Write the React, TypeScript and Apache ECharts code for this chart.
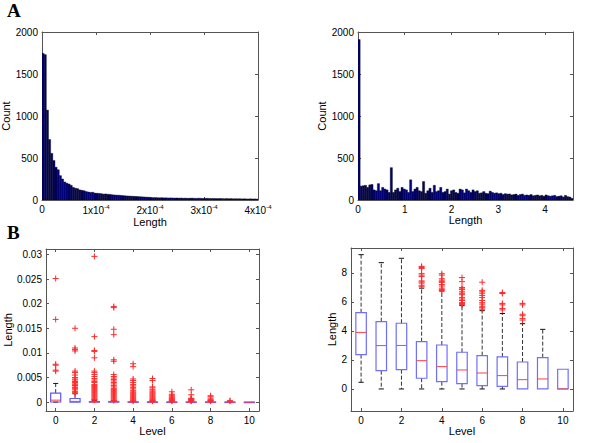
import React, { useEffect, useRef } from 'react';
import * as echarts from 'echarts';

// ---------- Data ----------
// Panel A (left): histogram of Length, 100 bins over [0, 4e-4]
const lengthBinWidth = 4e-6;
const lengthCounts = [
  1745, 1730, 1070, 720, 555, 470, 390, 360, 290, 250,
  215, 200, 190, 175, 150, 140, 135, 120, 115, 110,
  100, 95, 90, 92, 82, 80, 78, 75, 70, 72,
  68, 66, 62, 60, 58, 57, 55, 52, 50, 48,
  47, 45, 44, 42, 40, 39, 37, 36, 34, 32,
  30, 28, 29, 27, 26, 27, 25, 26, 24, 25,
  24, 23, 24, 22, 23, 21, 22, 20, 21, 22,
  20, 19, 21, 20, 18, 19, 20, 18, 17, 18,
  17, 16, 18, 16, 15, 17, 15, 16, 14, 15,
  14, 15, 13, 14, 13, 12, 14, 12, 13, 11,
];
// Panel A (right): histogram of log Length, 100 bins over [0, 4.6]
const logBinWidth = 0.046;
const logCounts = [
  1910, 165, 170, 175, 150, 180, 185, 120, 110, 195,
  110, 150, 130, 120, 90, 385, 90, 120, 140, 100,
  150, 130, 120, 90, 240, 100, 130, 150, 110, 100,
  220, 80, 110, 140, 90, 175, 100, 110, 150, 90,
  100, 130, 70, 110, 120, 90, 80, 130, 120, 85,
  130, 110, 90, 120, 100, 110, 80, 85, 100, 80,
  75, 105, 90, 80, 85, 75, 80, 65, 75, 70,
  72, 60, 65, 70, 55, 65, 70, 55, 60, 55,
  65, 50, 55, 60, 50, 55, 45, 60, 50, 45,
  50, 55, 40, 45, 50, 35, 55, 40, 35, 20,
];

// Panel B: box plots per level
const levels = [0, 1, 2, 3, 4, 5, 6, 7, 8, 9, 10];

const leftLow = [0, 0, 0, 0, 0, 0, 0, 0, 0, 0, 0];
const leftQ1 = [0.00003, 0, 0, 0, 0, 0, 0, 0, 0, 0, 0];
const leftMed = [0.0004, 0.00015, 0.00004, 0.00005, 0.00002, 0.00001, 0.00001, 0.00001, 0.00001, 0.00001, 0];
const leftQ3 = [0.00183, 0.00074, 0.00012, 0.00013, 0.00006, 0.00004, 0.00003, 0.00003, 0.00003, 0.00002, 0];
const leftHigh = [0.0038, 0.0017, 0.0003, 0.0003, 0.00015, 0.0001, 0.00007, 0.00007, 0.00007, 0.00005, 0];
const leftOutliers = [
  [0.0251, 0.0168, 0.0077, 0.0075, 0.0065, 0.0063],
  [0.015, 0.011, 0.0107, 0.0104, 0.0063, 0.006, 0.0055, 0.005, 0.0047, 0.0045, 0.0042, 0.004, 0.0037, 0.0035, 0.0034, 0.0033, 0.003, 0.0028, 0.0025, 0.0022, 0.002, 0.0018],
  [0.0296, 0.0133, 0.0105, 0.0103, 0.009, 0.0063, 0.006, 0.0056, 0.0052, 0.0048, 0.0045, 0.0042, 0.004, 0.0036, 0.0034, 0.0032, 0.003, 0.0028, 0.0026, 0.0024, 0.0022, 0.002, 0.0018, 0.0016, 0.0014, 0.0012, 0.001, 0.0008, 0.0006, 0.0005, 0.0004],
  [0.0194, 0.0192, 0.0148, 0.0137, 0.0086, 0.0083, 0.0056, 0.0052, 0.0049, 0.0046, 0.0043, 0.004, 0.0037, 0.0034, 0.0031, 0.0028, 0.0026, 0.0024, 0.0022, 0.002, 0.0018, 0.0016, 0.0014, 0.0012, 0.001, 0.0008, 0.0006, 0.0004, 0.0003],
  [0.0078, 0.0072, 0.0047, 0.0044, 0.004, 0.0036, 0.0033, 0.003, 0.0027, 0.0024, 0.0021, 0.0019, 0.0017, 0.0015, 0.0013, 0.0011, 0.0009, 0.0007, 0.0005, 0.0003, 0.0002],
  [0.0048, 0.0044, 0.0031, 0.0029, 0.0026, 0.0023, 0.0021, 0.0019, 0.0017, 0.0015, 0.0013, 0.0011, 0.0009, 0.0007, 0.0005, 0.0004, 0.0003, 0.0002],
  [0.0021, 0.0016, 0.0014, 0.0012, 0.001, 0.0008, 0.0007, 0.0005, 0.0004, 0.0003, 0.0002],
  [0.0025, 0.0015, 0.0008, 0.0007, 0.0006, 0.0005, 0.0004, 0.0003, 0.0002],
  [0.0013, 0.0011, 0.0008, 0.0005, 0.0004, 0.0003, 0.0002],
  [0.0003, 0.0002],
  [],
];

const rightLow = [0.46, 0, 0, 0, 0, 0, 0, 0, 0, 0, 0];
const rightQ1 = [2.37, 1.26, 1.33, 0.74, 0.5, 0.37, 0.23, 0.18, 0, 0, 0];
const rightMed = [3.9, 2.99, 3.0, 1.95, 1.54, 1.31, 1.1, 0.92, 0.64, 0.69, 0];
const rightQ3 = [5.26, 4.64, 4.53, 3.26, 3.03, 2.53, 2.3, 2.21, 1.86, 2.16, 1.36];
const rightHigh = [9.26, 8.71, 9.01, 6.95, 6.75, 5.75, 5.4, 5.2, 4.5, 4.11, 1.36];
const rightOutliers = [
  [], [], [],
  [8.45, 8.38, 8.3, 7.95, 7.85, 7.75, 7.45, 7.38, 7.3, 7.15, 7.05],
  [7.95, 7.85, 7.6, 7.5, 7.4, 7.35, 7.2, 7.1, 6.95, 6.85, 6.78],
  [7.68, 7.4, 7.0, 6.9, 6.85, 6.7, 6.6, 6.5, 6.3, 6.2, 6.1, 5.95, 5.9, 5.85, 5.8],
  [7.36, 6.8, 6.7, 6.6, 6.45, 6.3, 6.1, 5.95, 5.85, 5.7, 5.6, 5.5],
  [6.65, 6.58, 5.9, 5.8, 5.55, 5.45],
  [5.9, 5.8, 5.15, 5.05, 4.85, 4.75],
  [], [],
];

const lengthTicks = [0, 1e-4, 2e-4, 3e-4, 4e-4];
const countTicks = [0, 500, 1000, 1500, 2000];
const logTicks = [0, 1, 2, 3, 4];
const levelTicks = [0, 2, 4, 6, 8, 10];
const smallLengthTicks = [0, 0.005, 0.01, 0.015, 0.02, 0.025, 0.03];
const logLengthTicks = [0, 2, 4, 6, 8];

// ---------- Styling helpers ----------
const FONT = "'Liberation Sans', Arial, Helvetica, sans-serif";
const FRAME = '#555';

type AxisSpec = {
  min: number;
  max: number;
  ticks: number[];
  fmt: (v: number) => string;
  name: string;
  nameGap: number;
  rich?: any;
};

function mainAxis(gridIndex: number, s: AxisSpec, position: string) {
  return {
    type: 'value',
    gridIndex,
    position,
    min: s.min,
    max: s.max,
    axisLine: { show: true, onZero: false, lineStyle: { color: FRAME, width: 1 } },
    axisTick: { show: true, inside: true, length: 3, customValues: s.ticks, lineStyle: { color: FRAME } },
    axisLabel: {
      show: true,
      customValues: s.ticks,
      formatter: s.fmt,
      color: '#000',
      fontFamily: FONT,
      fontSize: 10,
      margin: 4,
      hideOverlap: false,
      showMinLabel: true,
      showMaxLabel: true,
      rich: s.rich,
    },
    splitLine: { show: false },
    name: s.name,
    nameLocation: 'middle',
    nameGap: s.nameGap,
    nameTextStyle: { color: '#000', fontFamily: FONT, fontSize: 11 },
  };
}

function mirrorAxis(gridIndex: number, s: AxisSpec, position: string) {
  return {
    type: 'value',
    gridIndex,
    position,
    min: s.min,
    max: s.max,
    axisLine: { show: true, onZero: false, lineStyle: { color: FRAME, width: 1 } },
    axisTick: { show: true, inside: true, length: 3, customValues: s.ticks, lineStyle: { color: FRAME } },
    axisLabel: { show: false },
    splitLine: { show: false },
  };
}

const histRender = (params: any, api: any) => {
  const x0 = api.value(0);
  const x1 = api.value(1);
  const c = api.value(2);
  const p0 = api.coord([x0, c]);
  const p1 = api.coord([x1, 0]);
  return {
    type: 'rect',
    shape: { x: p0[0], y: p0[1], width: p1[0] - p0[0], height: p1[1] - p0[1] },
    style: { fill: '#00007a', stroke: '#000', lineWidth: 0.4 },
  };
};

function boxRender(boxColor: string, lw: number) {
  return (params: any, api: any) => {
    const lv = api.value(0);
    const lo = api.value(1);
    const q1 = api.value(2);
    const md = api.value(3);
    const q3 = api.value(4);
    const hi = api.value(5);
    const pL = api.coord([lv - 0.26, q1]);
    const pR = api.coord([lv + 0.26, q3]);
    const cx = api.coord([lv, md])[0];
    const yMd = api.coord([lv, md])[1];
    const yHi = api.coord([lv, hi])[1];
    const yLo = api.coord([lv, lo])[1];
    const capL = api.coord([lv - 0.13, 0])[0];
    const capR = api.coord([lv + 0.13, 0])[0];
    const children: any[] = [];
    const whisk = { stroke: '#333', lineWidth: 1, lineDash: [4, 2] };
    const cap = { stroke: '#111', lineWidth: 1 };
    if (hi > q3) {
      children.push({ type: 'line', shape: { x1: cx, y1: pR[1], x2: cx, y2: yHi }, style: whisk });
      children.push({ type: 'line', shape: { x1: capL, y1: yHi, x2: capR, y2: yHi }, style: cap });
    }
    if (lo < q1) {
      children.push({ type: 'line', shape: { x1: cx, y1: pL[1], x2: cx, y2: yLo }, style: whisk });
      children.push({ type: 'line', shape: { x1: capL, y1: yLo, x2: capR, y2: yLo }, style: cap });
    }
    children.push({
      type: 'rect',
      shape: { x: pL[0], y: pR[1], width: pR[0] - pL[0], height: Math.max(pL[1] - pR[1], 0.5) },
      style: { fill: 'none', stroke: boxColor, lineWidth: lw },
    });
    children.push({
      type: 'line',
      shape: { x1: pL[0], y1: yMd, x2: pR[0], y2: yMd },
      style: { stroke: '#ff4040', lineWidth: 1 },
    });
    return { type: 'group', children };
  };
}

const plusSymbol = 'path://M0,5L10,5M5,0L5,10';

export default function App() {
  const ref = useRef<HTMLDivElement>(null);

  useEffect(() => {
    if (!ref.current) return;
    const chart = echarts.init(ref.current, undefined, { renderer: 'svg' });

    const aLeftX: AxisSpec = {
      min: 0, max: 4e-4, ticks: lengthTicks,
      fmt: (v: number) => (Math.abs(v) < 1e-12 ? '0' : `{a|${Math.round(v / 1e-4)}x10}{b|-4}`),
      name: 'Length', nameGap: 12,
      rich: { a: { fontSize: 10, fontFamily: FONT, color: '#000', lineHeight: 13 }, b: { fontSize: 6, fontFamily: FONT, color: '#000', verticalAlign: 'top' } },
    };
    const aLeftY: AxisSpec = { min: 0, max: 2000, ticks: countTicks, fmt: (v: number) => String(v), name: 'Count', nameGap: 25 };
    const aRightX: AxisSpec = { min: 0, max: 4.6, ticks: logTicks, fmt: (v: number) => String(v), name: 'Length', nameGap: 12 };
    const aRightY: AxisSpec = { min: 0, max: 2000, ticks: countTicks, fmt: (v: number) => String(v), name: 'Count', nameGap: 29 };
    const bLeftX: AxisSpec = { min: -0.5, max: 10.5, ticks: levelTicks, fmt: (v: number) => String(v), name: 'Level', nameGap: 12 };
    const bLeftY: AxisSpec = {
      min: -0.0018, max: 0.0311, ticks: smallLengthTicks,
      fmt: (v: number) => String(parseFloat(v.toFixed(3))),
      name: 'Length', nameGap: 30,
    };
    const bRightX: AxisSpec = { min: -0.5, max: 10.5, ticks: levelTicks, fmt: (v: number) => String(v), name: 'Level', nameGap: 12 };
    const bRightY: AxisSpec = { min: -1.52, max: 9.72, ticks: logLengthTicks, fmt: (v: number) => String(v), name: 'Length', nameGap: 11 };

    const lengthData = lengthCounts.map((c, i) => [i * lengthBinWidth, (i + 1) * lengthBinWidth, c]);
    const logData = logCounts.map((c, i) => [i * logBinWidth, (i + 1) * logBinWidth, c]);
    const leftBoxData = levels.map((l, i) => [l, leftLow[i], leftQ1[i], leftMed[i], leftQ3[i], leftHigh[i]]);
    const rightBoxData = levels.map((l, i) => [l, rightLow[i], rightQ1[i], rightMed[i], rightQ3[i], rightHigh[i]]);
    const leftOut: number[][] = [];
    leftOutliers.forEach((arr, i) => arr.forEach((v) => leftOut.push([levels[i], v])));
    const rightOut: number[][] = [];
    rightOutliers.forEach((arr, i) => arr.forEach((v) => rightOut.push([levels[i], v])));

    const gridBase = { containLabel: false, outerBoundsMode: 'none', show: false };

    chart.setOption({
      animation: false,
      backgroundColor: '#fff',
      textStyle: { fontFamily: FONT },
      grid: [
        { ...gridBase, left: 42, top: 32, width: 216, height: 168 },
        { ...gridBase, left: 358, top: 32, width: 215, height: 168 },
        { ...gridBase, left: 46, top: 249, width: 213, height: 162 },
        { ...gridBase, left: 351, top: 248, width: 222, height: 163 },
      ],
      xAxis: [
        mainAxis(0, aLeftX, 'bottom'), mirrorAxis(0, aLeftX, 'top'),
        mainAxis(1, aRightX, 'bottom'), mirrorAxis(1, aRightX, 'top'),
        mainAxis(2, bLeftX, 'bottom'), mirrorAxis(2, bLeftX, 'top'),
        mainAxis(3, bRightX, 'bottom'), mirrorAxis(3, bRightX, 'top'),
      ],
      yAxis: [
        mainAxis(0, aLeftY, 'left'), mirrorAxis(0, aLeftY, 'right'),
        mainAxis(1, aRightY, 'left'), mirrorAxis(1, aRightY, 'right'),
        mainAxis(2, bLeftY, 'left'), mirrorAxis(2, bLeftY, 'right'),
        mainAxis(3, bRightY, 'left'), mirrorAxis(3, bRightY, 'right'),
      ],
      graphic: [
        { type: 'text', left: 7, top: 1, style: { text: 'A', font: "bold 19px 'Liberation Serif', 'Times New Roman', serif", fill: '#000' } },
        { type: 'text', left: 7, top: 223, style: { text: 'B', font: "bold 19px 'Liberation Serif', 'Times New Roman', serif", fill: '#000' } },
      ],
      series: [
        { type: 'custom', xAxisIndex: 0, yAxisIndex: 0, data: lengthData, encode: { x: [0, 1], y: 2 }, renderItem: histRender, clip: true },
        { type: 'custom', xAxisIndex: 2, yAxisIndex: 2, data: logData, encode: { x: [0, 1], y: 2 }, renderItem: histRender, clip: true },
        { type: 'custom', xAxisIndex: 4, yAxisIndex: 4, data: leftBoxData, encode: { x: 0, y: [1, 2, 3, 4, 5] }, renderItem: boxRender('#5a5aff', 1.2), clip: true },
        {
          type: 'scatter', xAxisIndex: 4, yAxisIndex: 4, data: leftOut, symbol: plusSymbol, symbolSize: 6,
          itemStyle: { color: 'rgba(0,0,0,0)', borderColor: '#ff2a2a', borderWidth: 1, opacity: 1 }, z: 5,
        },
        { type: 'custom', xAxisIndex: 6, yAxisIndex: 6, data: rightBoxData, encode: { x: 0, y: [1, 2, 3, 4, 5] }, renderItem: boxRender('#6f6fff', 1.2), clip: true },
        {
          type: 'scatter', xAxisIndex: 6, yAxisIndex: 6, data: rightOut, symbol: plusSymbol, symbolSize: 6,
          itemStyle: { color: 'rgba(0,0,0,0)', borderColor: '#ff2a2a', borderWidth: 1, opacity: 1 }, z: 5,
        },
      ],
    });

    return () => {
      chart.dispose();
    };
  }, []);

  return (
    <div
      ref={ref}
      style={{ position: 'absolute', left: 0, top: 0, width: 600, height: 443, background: '#fff' }}
    />
  );
}
